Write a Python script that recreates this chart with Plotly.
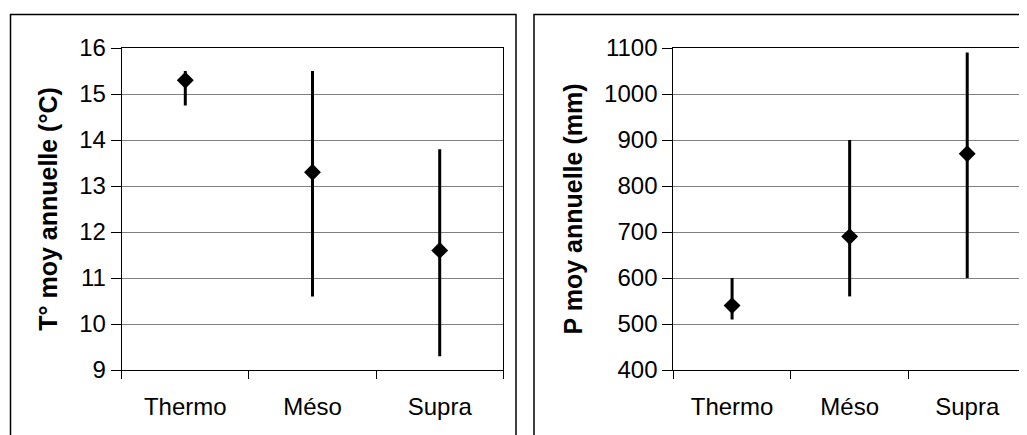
import plotly.graph_objects as go
from plotly.subplots import make_subplots

categories = ["Thermo", "Méso", "Supra"]

temp_mean = [15.3, 13.3, 11.6]
temp_min = [14.75, 10.6, 9.3]
temp_max = [15.5, 15.5, 13.8]

precip_mean = [540, 690, 870]
precip_min = [510, 560, 600]
precip_max = [600, 900, 1090]

# page body has an 8px default margin: the figure starts at (8, 8) on screen
OFF = 8
W, H = 1027 - OFF, 435 - OFF
FONT = "Liberation Sans, Arial, sans-serif"

fig = make_subplots(rows=1, cols=2)

def add_series(mean, lo, hi, col):
    fig.add_trace(go.Scatter(
        x=categories, y=mean, mode="markers",
        marker=dict(symbol="diamond", size=13, color="black"),
        error_y=dict(type="data", symmetric=False,
                     array=[h - m for h, m in zip(hi, mean)],
                     arrayminus=[m - l for m, l in zip(mean, lo)],
                     width=0, thickness=3, color="black"),
        showlegend=False, hoverinfo="skip"), row=1, col=col)

add_series(temp_mean, temp_min, temp_max, 1)
add_series(precip_mean, precip_min, precip_max, 2)

def px_x(p):
    return (p - OFF) / W

def px_y(p):
    return 1 - (p - OFF) / H

xaxis_common = dict(type="category", range=[-0.5, 2.5], tickson="boundaries",
                    ticks="outside", ticklen=8, tickcolor="black", tickwidth=1,
                    ticklabelstandoff=15,
                    showline=True, linecolor="black", linewidth=1, mirror=True,
                    showgrid=False, zeroline=False, automargin=False,
                    tickfont=dict(family=FONT, size=24, color="black"))
yaxis_common = dict(ticks="outside", ticklen=10, tickcolor="black", tickwidth=1,
                    showline=True, linecolor="black", linewidth=1, mirror=True,
                    showgrid=True, gridcolor="#808080", gridwidth=1,
                    zeroline=False, automargin=False,
                    tickfont=dict(family=FONT, size=24, color="black"))

fig.update_layout(
    width=W, height=H,
    margin=dict(l=0, r=0, t=0, b=0, pad=0, autoexpand=False),
    paper_bgcolor="white", plot_bgcolor="white",
    xaxis=dict(domain=[px_x(121.7), px_x(503.3)], **xaxis_common),
    xaxis2=dict(domain=[px_x(673.3), px_x(1026)], **xaxis_common),
    yaxis=dict(domain=[px_y(370), px_y(48)], range=[9, 16], dtick=1,
               title=dict(text="T° moy annuelle (°C)", standoff=14,
                          font=dict(family=FONT, size=25, color="black", weight="bold")),
               **yaxis_common),
    yaxis2=dict(domain=[px_y(370), px_y(48)], range=[400, 1100], dtick=100,
                title=dict(text="P moy annuelle (mm)", standoff=14,
                           font=dict(family=FONT, size=25, color="black", weight="bold")),
                **yaxis_common),
)

# outer chart-area frames
fig.add_shape(type="rect", xref="paper", yref="paper",
              x0=px_x(10.5), x1=px_x(516), y0=px_y(445), y1=px_y(14.5),
              line=dict(color="black", width=1.5), fillcolor="rgba(0,0,0,0)", layer="below")
fig.add_shape(type="rect", xref="paper", yref="paper",
              x0=px_x(534), x1=px_x(1045), y0=px_y(445), y1=px_y(14.5),
              line=dict(color="black", width=1.5), fillcolor="rgba(0,0,0,0)", layer="below")

fig.write_html("out.html")
